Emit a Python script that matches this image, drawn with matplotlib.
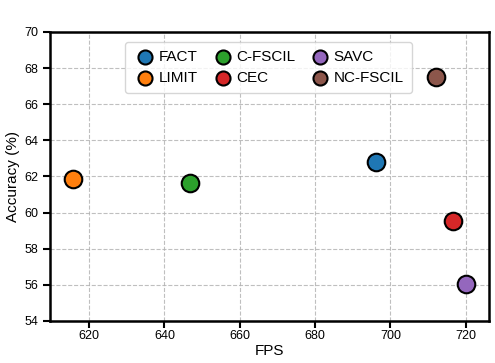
import matplotlib
matplotlib.use('agg')
import matplotlib.pyplot as plt

plt.rcParams['font.family'] = ['Liberation Sans', 'DejaVu Sans']

methods = ['FACT', 'LIMIT', 'C-FSCIL', 'CEC', 'SAVC', 'NC-FSCIL']
fps = [696.1, 615.6, 646.8, 716.5, 720.0, 712.0]
acc = [62.78, 61.85, 61.66, 59.55, 56.02, 67.5]
colors = ['#1f77b4', '#ff7f0e', '#2ca02c', '#d62728', '#9467bd', '#8c564b']

fig, ax = plt.subplots(figsize=(4.95, 3.63), dpi=100)
fig.subplots_adjust(left=0.101, right=0.988, top=0.912, bottom=0.116)

for m, x, y, c in zip(methods, fps, acc, colors):
    ax.scatter(x, y, s=160, color=c, edgecolors='black', linewidths=1.5,
               label=m, zorder=3)

ax.set_xlim(609.6, 726.2)
ax.set_ylim(54, 70)
ax.set_xticks([620, 640, 660, 680, 700, 720])
ax.set_yticks(range(54, 71, 2))
ax.grid(True, linestyle='--', color='#b0b0b0', linewidth=0.8, alpha=0.8)
ax.set_axisbelow(True)

for s in ax.spines.values():
    s.set_linewidth(1.8)
ax.tick_params(direction='out', length=5, width=1.5, labelsize=9)
ax.tick_params(axis='x', pad=1.5)
ax.set_xlabel('FPS', fontsize=11, labelpad=1.5)
ax.set_ylabel('Accuracy (%)', fontsize=11, labelpad=3)

ax.legend(loc='upper center', ncol=3, fontsize=11, bbox_to_anchor=(0.497, 0.991),
          handlelength=1.7, handletextpad=0.05, columnspacing=0.75,
          borderpad=0.5, framealpha=0.8, edgecolor='#cccccc',
          scatterpoints=1, markerscale=0.8)

fig.savefig('out.png', dpi=100)
